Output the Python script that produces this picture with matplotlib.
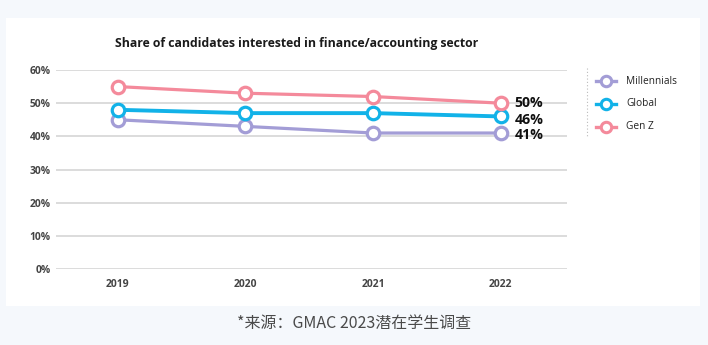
import matplotlib
matplotlib.use('Agg')
import matplotlib.pyplot as plt
from matplotlib.patches import Rectangle
from matplotlib.lines import Line2D

# Datos
anios = ['2019', '2020', '2021', '2022']
millennials = [45, 43, 41, 41]
global_ = [48, 47, 47, 46]
gen_z = [55, 53, 52, 50]
etiquetas_y = ['0%', '10%', '20%', '30%', '40%', '50%', '60%']
fuente = '*来源：GMAC 2023潜在学生调查'

# nombre, valores, color, ancho de línea, desplazamiento vertical de la etiqueta (pt)
series = [
    ('Millennials', millennials, '#A39DD6', 2.3, -1.5),
    ('Global', global_, '#12B2E8', 2.8, -2.5),
    ('Gen Z', gen_z, '#F48A9B', 2.3, 0),
]

W, H = 708, 345
fig = plt.figure(figsize=(W / 100, H / 100), dpi=100)
fig.patch.set_facecolor('#F5F8FC')

# Tarjeta blanca (detrás de los ejes)
fig.patches.append(Rectangle((6 / W, 1 - 306 / H), (700 - 6) / W, (306 - 18) / H,
                             transform=fig.transFigure, facecolor='white',
                             edgecolor='none', zorder=-5))

# Ejes: 0% en y=269, 60% en y=70; x de 56 a 567
ax = fig.add_axes([56 / W, 1 - 269 / H, (567 - 56) / W, (269 - 70) / H])
ax.set_facecolor('none')
x = list(range(len(anios)))
ax.set_xlim(-0.485, 3.52)
ax.set_ylim(0, 60)

for v in range(0, 61, 10):
    ax.axhline(v, color='#D9D9D9', lw=1.3, zorder=1)

for nombre, valores, color, lw, dy in series:
    ax.plot(x, valores, color=color, lw=lw, marker='o', markersize=9,
            markerfacecolor='white', markeredgecolor=color, markeredgewidth=2.3,
            zorder=3, clip_on=False)
    ax.annotate(f'{valores[-1]}%', (x[-1], valores[-1]), xytext=(10, dy),
                textcoords='offset points', va='center', ha='left',
                fontsize=10.2, fontweight='bold', family='Open Sans', color='#111111')

for s in ax.spines.values():
    s.set_visible(False)
ax.set_xticks(x)
ax.set_xticklabels(anios)
ax.set_yticks(range(0, 61, 10))
ax.set_yticklabels(etiquetas_y)
ax.tick_params(length=0, labelsize=7.4, labelcolor='#444444')
ax.tick_params(axis='x', pad=7)
ax.tick_params(axis='y', pad=4)
for lbl in ax.get_xticklabels() + ax.get_yticklabels():
    lbl.set_fontweight('bold')
    lbl.set_family('Open Sans')

fig.text(297 / W, 1 - 44 / H, 'Share of candidates interested in finance/accounting sector',
         ha='center', va='center', fontsize=8.8, fontweight='bold', family='Open Sans',
         color='#1A1A1A')

# Leyenda manual
fig.add_artist(Line2D([587 / W, 587 / W], [1 - 68 / H, 1 - 136 / H],
                      transform=fig.transFigure, color='#BBBBBB', lw=0.8, ls=(0, (1, 2))))
for i, (nombre, valores, color, lw, dy) in enumerate(series):
    yy = 1 - (81 + 23 * i) / H
    fig.add_artist(Line2D([596 / W, 616 / W], [yy, yy], transform=fig.transFigure,
                          color=color, lw=2.4))
    fig.add_artist(Line2D([606 / W], [yy], transform=fig.transFigure, marker='o',
                          markersize=7.5, markerfacecolor='white', markeredgecolor=color,
                          markeredgewidth=2.2, color=color))
    fig.text(626 / W, yy, nombre, ha='left', va='center', fontsize=7.3,
             family='Open Sans', color='#222222')

plt.rcParams['font.family'] = ['Noto Sans CJK SC', 'DejaVu Sans']
fig.text(354 / W, 1 - 323 / H, fuente, ha='center', va='center', fontsize=11.5,
         family=['Noto Sans CJK SC', 'DejaVu Sans'], color='#4A4A4A')

plt.savefig('out.png', dpi=100, facecolor=fig.get_facecolor())
plt.close()
